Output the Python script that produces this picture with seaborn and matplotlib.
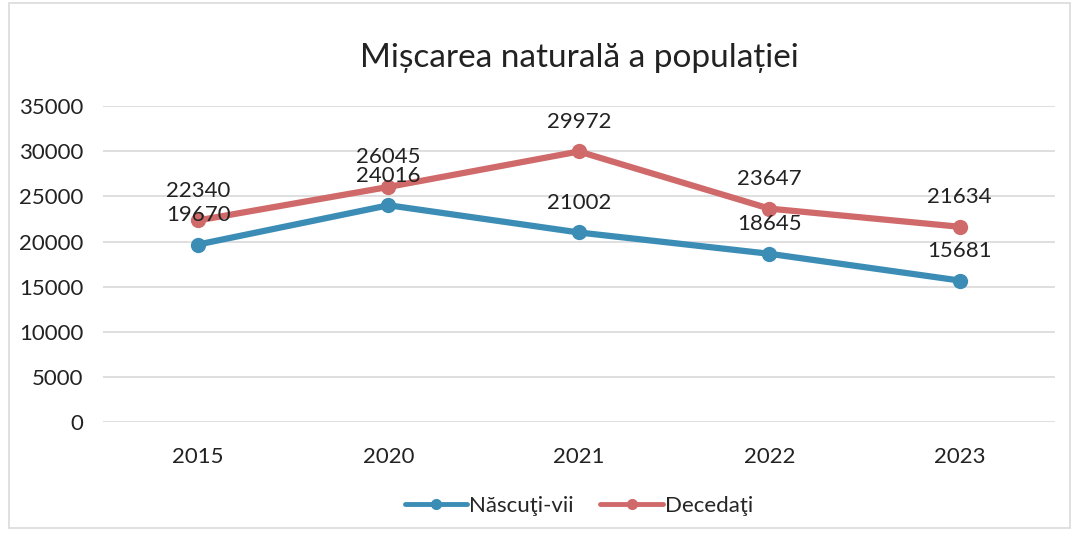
import matplotlib
matplotlib.use("Agg")
import matplotlib.pyplot as plt
import seaborn as sns
import pandas as pd

years = ["2015", "2020", "2021", "2022", "2023"]
nascuti_vii = [19670, 24016, 21002, 18645, 15681]
decedati = [22340, 26045, 29972, 23647, 21634]
series_names = ["Născuţi-vii", "Decedaţi"]
colors = ["#3b8db6", "#d06a6a"]
y_ticks = [0, 5000, 10000, 15000, 20000, 25000, 30000, 35000]

sns.set_theme(style="white")
plt.rcParams["font.family"] = ["Lato", "DejaVu Sans"]

df = pd.DataFrame({
    "An": years * 2,
    "Valoare": nascuti_vii + decedati,
    "Serie": [series_names[0]] * len(years) + [series_names[1]] * len(years),
})

fig = plt.figure(figsize=(10.72, 5.33), dpi=100)
ax = fig.add_axes([0.096, 0.208, 0.888, 0.593])

sns.lineplot(data=df, x="An", y="Valoare", hue="Serie", palette=colors,
             marker="o", markersize=11, linewidth=4.5, markeredgewidth=0,
             sort=False, ax=ax, legend=True)

ax.set_ylim(0, 35000)
ax.set_yticks(y_ticks)
ax.set_yticklabels([str(t) for t in y_ticks], fontsize=16, color="#222222")
ax.tick_params(axis="x", labelsize=16, colors="#222222", pad=12)
ax.tick_params(axis="y", pad=14, length=0)
ax.set_xlim(-0.5, len(years) - 0.5)
ax.set_xlabel("")
ax.set_ylabel("")
ax.grid(axis="y", color="#d9d9d9", linewidth=1.2)
for s in ax.spines.values():
    s.set_visible(False)

# value labels above each point
for vals in (nascuti_vii, decedati):
    for i, v in enumerate(vals):
        ax.annotate(str(v), (i, v), xytext=(0, 14), textcoords="offset points",
                    ha="center", va="bottom", fontsize=16, color="#222222")

ax.set_title("Mișcarea naturală a populației", fontsize=24, color="#222222", pad=28)

handles, labels = ax.get_legend_handles_labels()
leg = ax.legend(handles, labels, loc="upper center", bbox_to_anchor=(0.5, -0.17),
                ncol=2, frameon=False, fontsize=16, handlelength=2.8,
                handletextpad=0.1, columnspacing=1.2)
for h in leg.get_lines():
    h.set_linewidth(3.5)
    h.set_markersize(8)

# outer chart frame
fig.patches.append(plt.Rectangle((0.008, 0.01), 0.99, 0.985, transform=fig.transFigure,
                                 fill=False, edgecolor="#dadada", linewidth=1.2))

fig.savefig("out.png", dpi=100)
